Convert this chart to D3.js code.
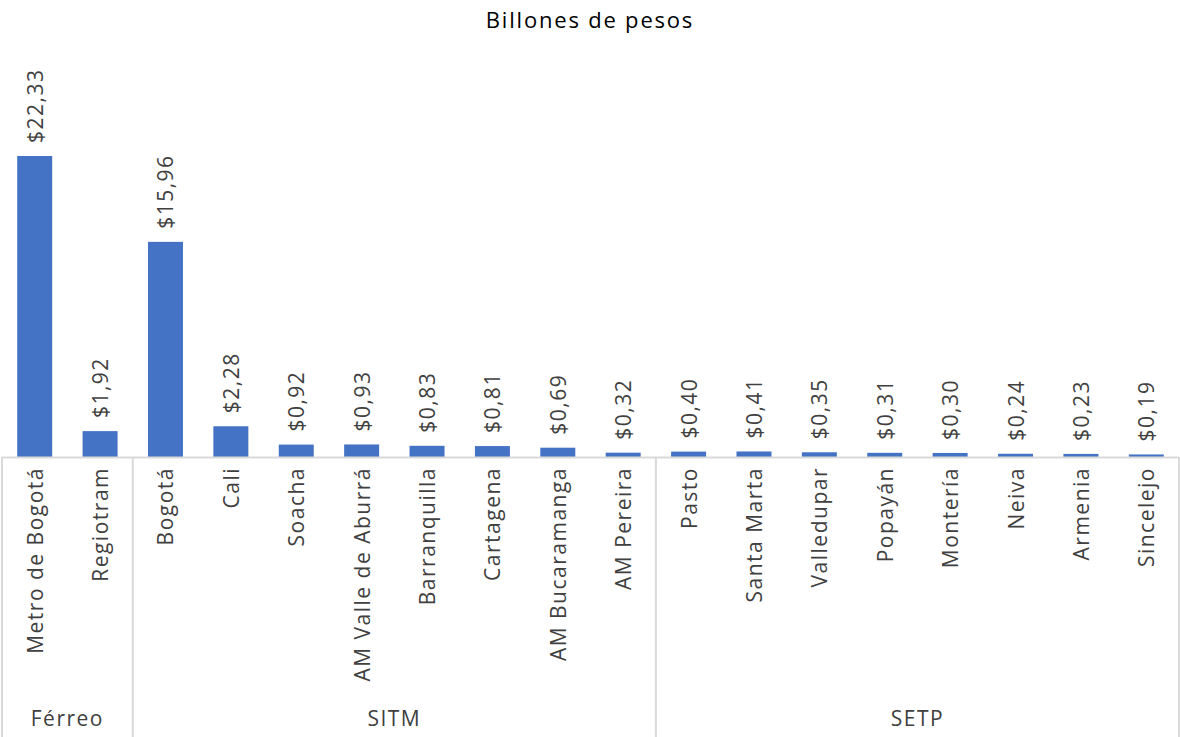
<!DOCTYPE html>
<html>
<head>
<meta charset="utf-8">
<script src="https://cdn.jsdelivr.net/npm/d3@7/dist/d3.min.js"></script>
<style>
  html, body { margin: 0; padding: 0; background: #fff; }
  svg { display: block; font-family: "Open Sans", sans-serif; }
</style>
</head>
<body>
<svg id="chart" width="1180" height="737"></svg>
<script>
const categories = ["Metro de Bogotá", "Regiotram", "Bogotá", "Cali", "Soacha", "AM Valle de Aburrá",
  "Barranquilla", "Cartagena", "AM Bucaramanga", "AM Pereira", "Pasto", "Santa Marta",
  "Valledupar", "Popayán", "Montería", "Neiva", "Armenia", "Sincelejo"];
const groupOf = ["Férreo", "Férreo", "SITM", "SITM", "SITM", "SITM", "SITM", "SITM", "SITM", "SITM",
  "SETP", "SETP", "SETP", "SETP", "SETP", "SETP", "SETP", "SETP"];
const groups = ["Férreo", "SITM", "SETP"];
const values = [22.33, 1.92, 15.96, 2.28, 0.92, 0.93, 0.83, 0.81, 0.69, 0.32,
  0.40, 0.41, 0.35, 0.31, 0.30, 0.24, 0.23, 0.19];
const title = "Billones de pesos";

const svg = d3.select("#chart");
const W = 1180, H = 737;
const left = 2, right = 1179, baseY = 457, bottom = 737;

const x = d3.scaleBand().domain(categories).range([left, right]).paddingInner(0.465).paddingOuter(0.2325);
const y = d3.scaleLinear().domain([0, 25]).range([baseY, 120]);

const fmt = v => "$" + v.toFixed(2).replace(".", ",");

svg.append("text").attr("x", W / 2).attr("y", 28).attr("text-anchor", "middle")
  .attr("font-size", 22).attr("letter-spacing", 1.8).attr("fill", "#000").text(title);

// bars
svg.append("g").selectAll("rect").data(values).join("rect")
  .attr("x", (d, i) => x(categories[i]))
  .attr("width", x.bandwidth())
  .attr("y", d => y(d))
  .attr("height", d => baseY - y(d))
  .attr("fill", "#4472C4");

// value labels
svg.append("g").selectAll("text").data(values).join("text")
  .attr("transform", (d, i) => `translate(${x(categories[i]) + x.bandwidth() / 2},${y(d) - 13}) rotate(-90)`)
  .attr("dominant-baseline", "central")
  .attr("font-size", 21).attr("letter-spacing", 1.5).attr("fill", "#404040")
  .text(d => fmt(d));

// axis line
const axisColor = "#d9d9d9";
svg.append("line").attr("x1", left).attr("x2", right).attr("y1", baseY + 0.5).attr("y2", baseY + 0.5)
  .attr("stroke", axisColor).attr("stroke-width", 2);

// group separators
const step = x.step();
const groupRanges = groups.map(g => {
  const idx = groupOf.map((v, i) => v === g ? i : -1).filter(i => i >= 0);
  const start = x(categories[idx[0]]) - x.paddingInner() * step / 2;
  const end = x(categories[idx[idx.length - 1]]) + x.bandwidth() + x.paddingInner() * step / 2;
  return { g, start, end };
});
const bounds = [left].concat(groupRanges.map(r => r.end));
bounds[bounds.length - 1] = right;
svg.append("g").selectAll("line").data(bounds).join("line")
  .attr("x1", d => d).attr("x2", d => d).attr("y1", baseY).attr("y2", bottom)
  .attr("stroke", axisColor).attr("stroke-width", 2);

// category labels
svg.append("g").selectAll("text").data(categories).join("text")
  .attr("transform", d => `translate(${x(d) + x.bandwidth() / 2},${baseY + 10}) rotate(-90)`)
  .attr("text-anchor", "end").attr("dominant-baseline", "central")
  .attr("font-size", 21).attr("letter-spacing", 1.5).attr("fill", "#404040")
  .text(d => d);

// group labels
svg.append("g").selectAll("text").data(groupRanges).join("text")
  .attr("x", d => (d.start + d.end) / 2).attr("y", 726)
  .attr("text-anchor", "middle").attr("font-size", 21).attr("letter-spacing", 1.5).attr("fill", "#404040")
  .text(d => d.g);
</script>
</body>
</html>
